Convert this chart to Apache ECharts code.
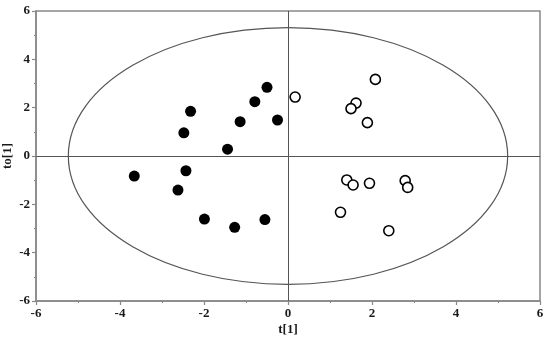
<!DOCTYPE html>
<html>
<head>
<meta charset="utf-8">
<script src="https://cdn.jsdelivr.net/npm/echarts@6/dist/echarts.min.js"></script>
<style>
html,body{margin:0;padding:0;background:#fff;}
#main{width:550px;height:339px;}
</style>
</head>
<body>
<div id="main"></div>
<script>
// 实心点 (t[1], to[1])
const groupA = [
  [-3.66, -0.83], [-2.43, -0.61], [-2.62, -1.41], [-2.32, 1.85], [-2.48, 0.96],
  [-0.50, 2.84], [-0.79, 2.25], [-1.14, 1.42], [-0.25, 1.49], [-1.44, 0.28],
  [-1.99, -2.61], [-1.27, -2.95], [-0.55, -2.63]
];
// 空心点
const groupB = [
  [0.17, 2.44], [2.08, 3.17], [1.62, 2.19], [1.50, 1.96], [1.89, 1.38],
  [1.40, -0.99], [1.55, -1.20], [1.94, -1.13], [1.25, -2.33], [2.40, -3.09],
  [2.79, -1.02], [2.85, -1.30]
];
// 椭圆: 中心x, 中心y, 半轴x, 半轴y
const ellipse = [[0, 0, 5.23, 5.31]];
const axisMin = -6, axisMax = 6, axisStep = 2;

const font = {fontFamily: 'Liberation Serif', fontWeight: 'bold', fontSize: 13, color: '#1a1a1a'};

const myChart = echarts.init(document.getElementById('main'));

function axisCfg(name, gap) {
  return {
    type: 'value',
    min: axisMin,
    max: axisMax,
    interval: axisStep,
    name: name,
    nameLocation: 'middle',
    nameGap: gap,
    nameMoveOverlap: false,
    nameTextStyle: font,
    axisLine: {onZero: false, lineStyle: {color: '#888', width: 1.5}},
    axisTick: {length: 4, lineStyle: {color: '#888', width: 1.2}},
    minorTick: {show: true, splitNumber: 2, length: 2, lineStyle: {color: '#888'}},
    axisLabel: Object.assign({margin: 6}, font),
    splitLine: {show: false}
  };
}

const option = {
  animation: false,
  grid: {
    left: 36, right: 10, top: 11, bottom: 38,
    outerBoundsMode: 'none',
    containLabel: false,
    show: true, borderColor: '#888', borderWidth: 1.5
  },
  xAxis: axisCfg('t[1]', 22),
  yAxis: axisCfg('to[1]', 22),
  series: [
    {
      type: 'custom',
      data: ellipse,
      silent: true,
      z: 1,
      renderItem: function (params, api) {
        const c = api.coord([api.value(0), api.value(1)]);
        const s = api.size([api.value(2), api.value(3)]);
        return {
          type: 'ellipse',
          shape: {cx: c[0], cy: c[1], rx: s[0], ry: s[1]},
          style: {fill: 'none', stroke: '#555', lineWidth: 1.2}
        };
      },
      markLine: {
        silent: true,
        symbol: 'none',
        label: {show: false},
        lineStyle: {color: '#555', width: 1, type: 'solid'},
        data: [{xAxis: 0}, {yAxis: 0}]
      }
    },
    {
      type: 'scatter',
      data: groupA,
      symbol: 'circle',
      symbolSize: 11,
      itemStyle: {color: '#000', opacity: 1},
      z: 3
    },
    {
      type: 'scatter',
      data: groupB,
      symbol: 'circle',
      symbolSize: 10,
      itemStyle: {color: '#fff', borderColor: '#000', borderWidth: 1.6, opacity: 1},
      z: 3
    }
  ]
};
myChart.setOption(option);
</script>
</body>
</html>
